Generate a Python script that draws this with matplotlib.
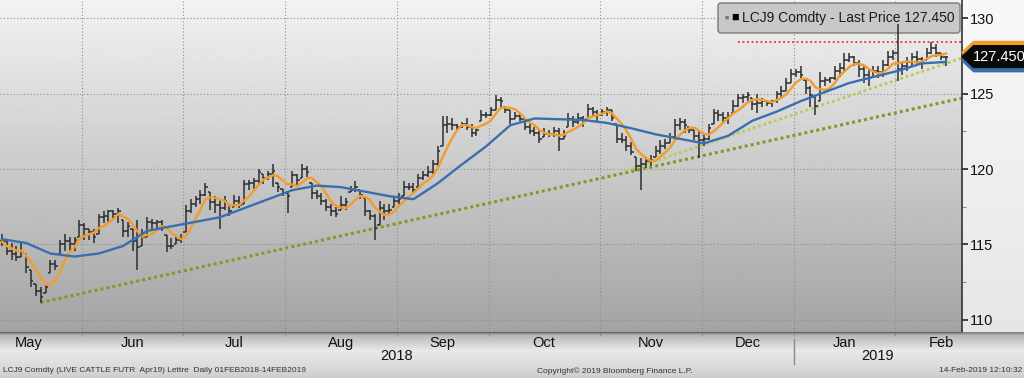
import numpy as np
import pandas as pd
import matplotlib
matplotlib.use("Agg")
import matplotlib.pyplot as plt
from matplotlib.patches import FancyBboxPatch, Polygon
from matplotlib.transforms import blended_transform_factory, IdentityTransform

plt.rcParams['font.family'] = ['Liberation Sans', 'DejaVu Sans']

# LCJ9 daily bars, one per session (08-May-2018 .. 14-Feb-2019)
close = [115.2, 114.6, 114.4, 114.2, 114.5, 113.5, 112.6, 111.9, 111.5, 112.2,
         113.7, 113.6, 115.0, 115.2, 115.0, 115.3, 116.3, 116.0, 115.8, 115.5,
         116.8, 116.9, 117.2, 117.0, 117.2, 115.9, 116.2, 115.2, 114.8, 115.5,
         116.5, 116.4, 116.5, 116.2, 114.9, 114.9, 115.3, 115.4, 117.2, 117.7,
         118.0, 118.3, 118.8, 117.8, 117.6, 117.4, 117.9, 117.2, 117.9, 117.6,
         119.0, 119.1, 119.2, 119.8, 119.4, 119.7, 119.9, 118.8, 118.4, 118.2,
         119.6, 119.3, 120.0, 119.8, 118.4, 118.2, 117.9, 117.5, 117.2, 117.0,
         117.6, 117.8, 118.6, 118.8, 118.3, 117.2, 116.9, 116.1, 117.4, 117.2,
         117.3, 117.9, 118.0, 118.8, 118.8, 118.6, 119.4, 119.6, 119.8, 120.3,
         121.2, 122.9, 123.0, 122.9, 122.8, 123.0, 122.8, 122.4, 122.6, 123.6,
         123.6, 123.9, 124.6, 124.5, 123.9, 123.3, 123.5, 123.3, 122.8, 122.5,
         122.4, 122.0, 122.3, 122.3, 122.5, 122.0, 122.2, 123.3, 123.1, 123.4,
         123.1, 124.0, 123.8, 123.6, 123.8, 123.9, 123.4, 122.0, 121.9, 121.5,
         121.1, 120.2, 120.3, 120.5, 120.6, 121.2, 121.5, 121.7, 122.1, 122.9,
         123.1, 122.9, 122.6, 122.2, 121.9, 122.0, 122.7, 123.7, 123.6, 123.4,
         123.5, 124.2, 124.7, 124.8, 124.9, 124.3, 124.4, 124.5, 124.4, 124.5,
         125.0, 125.2, 125.7, 126.3, 126.4, 126.2, 125.4, 124.9, 124.2, 125.8,
         125.9, 126.0, 126.5, 126.7, 127.2, 127.4, 127.0, 126.6, 126.2, 126.0,
         126.5, 126.4, 126.9, 127.4, 127.7, 126.6, 126.8, 127.1, 127.4, 127.3,
         127.0, 127.7, 128.0, 127.7, 127.4, 127.45]
high = [115.7, 115.2, 115.1, 114.9, 115.1, 114.4, 113.3, 112.4, 112.2, 112.4,
        114.0, 114.0, 115.3, 115.7, 115.5, 115.5, 116.6, 116.4, 116.0, 116.0,
        117.0, 117.2, 117.3, 117.3, 117.4, 116.6, 116.5, 116.0, 116.6, 116.0,
        116.8, 116.7, 116.6, 116.6, 115.6, 115.4, 115.6, 115.7, 117.6, 118.0,
        118.2, 118.6, 119.1, 118.5, 118.2, 118.0, 118.2, 117.7, 118.3, 118.2,
        119.3, 119.3, 119.4, 120.0, 119.7, 119.9, 120.3, 119.1, 118.7, 118.4,
        119.9, 119.7, 120.3, 120.2, 119.1, 118.6, 118.4, 118.0, 117.7, 117.5,
        118.2, 118.1, 118.9, 119.2, 118.6, 118.1, 117.3, 117.0, 117.9, 117.7,
        117.7, 118.2, 118.4, 119.2, 119.1, 119.1, 119.7, 119.9, 120.2, 120.6,
        121.5, 123.5, 123.5, 123.4, 123.0, 123.1, 123.4, 123.0, 122.8, 123.9,
        123.8, 124.1, 124.9, 124.8, 124.1, 123.9, 123.8, 123.7, 123.4, 123.0,
        122.8, 122.6, 122.7, 122.6, 122.8, 122.7, 122.6, 123.7, 123.5, 123.7,
        123.5, 124.3, 124.1, 123.9, 124.0, 124.1, 123.9, 123.0, 122.4, 122.2,
        121.8, 120.8, 120.7, 120.8, 120.9, 121.5, 121.9, 122.0, 122.4, 123.3,
        123.4, 123.3, 122.8, 122.6, 122.6, 122.4, 123.0, 124.0, 123.9, 123.8,
        123.8, 124.6, 125.0, 125.0, 125.1, 124.7, 125.0, 124.7, 124.6, 124.6,
        125.2, 125.5, 126.0, 126.6, 126.6, 126.8, 125.9, 125.5, 124.8, 126.4,
        126.1, 126.1, 126.8, 127.0, 127.7, 127.7, 127.5, 127.2, 126.8, 126.6,
        126.8, 126.8, 127.2, 127.8, 127.9, 129.6, 127.1, 127.4, 127.7, 127.8,
        127.4, 128.0, 128.4, 128.3, 127.7, 127.5]
low = [114.9, 114.3, 114.0, 113.9, 114.2, 113.1, 112.2, 111.6, 111.1, 111.8,
       113.1, 113.3, 114.4, 114.6, 114.5, 114.6, 115.5, 115.3, 115.3, 115.1,
       115.7, 116.4, 116.5, 116.6, 116.4, 115.5, 115.5, 114.6, 113.3, 114.9,
       115.5, 116.0, 116.1, 115.9, 114.5, 114.7, 115.0, 115.1, 115.8, 117.1,
       117.5, 117.7, 118.2, 117.3, 117.1, 116.0, 117.3, 116.9, 117.5, 117.4,
       117.7, 118.6, 118.7, 119.0, 119.0, 119.3, 118.8, 118.5, 118.2, 117.1,
       118.8, 118.8, 119.4, 119.5, 118.0, 118.0, 117.6, 117.2, 116.9, 116.8,
       117.3, 117.3, 118.5, 118.5, 118.0, 116.9, 116.6, 115.3, 116.3, 116.6,
       117.0, 117.5, 117.7, 118.2, 118.6, 118.4, 118.8, 119.3, 119.5, 119.7,
       120.2, 121.5, 122.4, 122.6, 122.6, 122.7, 122.6, 122.1, 122.2, 123.2,
       123.4, 123.5, 123.9, 124.1, 123.7, 123.0, 123.3, 123.2, 122.6, 122.3,
       122.2, 121.7, 122.1, 122.1, 122.1, 121.2, 122.0, 122.8, 122.8, 123.0,
       122.8, 123.3, 123.5, 123.2, 123.5, 123.5, 123.2, 121.7, 121.7, 121.2,
       120.9, 119.9, 118.6, 120.1, 120.2, 120.8, 121.0, 121.3, 121.7, 121.9,
       122.6, 122.4, 122.4, 121.9, 120.7, 121.5, 121.9, 123.0, 123.2, 123.0,
       123.0, 123.7, 124.1, 124.4, 124.5, 123.9, 123.7, 124.1, 124.2, 124.1,
       124.4, 124.8, 125.2, 125.7, 126.1, 126.0, 125.0, 124.1, 123.6, 124.5,
       125.5, 125.7, 125.9, 126.1, 126.5, 127.1, 126.8, 126.1, 125.7, 125.5,
       126.1, 126.0, 126.1, 126.8, 127.2, 125.8, 126.2, 126.5, 126.8, 126.9,
       126.6, 127.2, 127.6, 127.4, 127.2, 126.8]

# slow moving average (blue), read every 5th session
ma_slow = [115.35, 115.1, 114.4, 114.2, 114.4, 114.9, 115.9, 116.2, 116.5, 116.8,
           117.4, 118.0, 118.6, 118.9, 118.8, 118.5, 118.2, 118.0, 119.05, 120.3,
           121.5, 122.9, 123.35, 123.3, 123.25, 123.05, 122.7, 122.3, 122.0, 121.7,
           122.2, 123.2, 123.8, 124.5, 125.1, 125.7, 126.1, 126.5, 127.0, 127.1]
ma_slow_step = 5
ma_fast_len = 5

last_price = 127.45
range_high = 128.45
range_high_from = 152

# dotted trend lines as (session, price)
trend_main = [(8, 111.15), (198.3, 124.7)]
trend_nov = [(129, 119.9), (198.3, 127.35)]

months = ['May', 'Jun', 'Jul', 'Aug', 'Sep', 'Oct', 'Nov', 'Dec', 'Jan', 'Feb']
month_first = [-5, 17, 38, 59, 82, 101, 124, 145, 164, 185, 204]
years = ['2018', '2019']
year_first = 164

W, H = 1024, 378
fig = plt.figure(figsize=(W / 100, H / 100), dpi=100)

# figure background
bg = fig.add_axes([0, 0, 1, 1], zorder=-5)
rows = np.arange(H)
g = np.interp(rows, [0, 331, 332, 335, 350, 365, 378],
              [0.97, 0.90, 0.50, 0.72, 0.91, 0.86, 0.80])
bg.imshow(g[:, None], cmap='gray', vmin=0, vmax=1, aspect='auto', extent=[0, 1, 0, 1])
bg.axis('off')

ax = fig.add_axes([0, 46 / H, 962 / W, 332 / H])
x0, x1 = -0.4, 198.3
y0, y1 = 109.2, 131.2
pg = np.linspace(0.95, 0.64, 200)[:, None]
ax.imshow(pg, cmap='gray', vmin=0, vmax=1, aspect='auto', extent=[x0, x1, y0, y1], zorder=0)

x = np.arange(len(close))
c = np.array(close)
opens = np.clip(np.r_[c[0], c[:-1]], low, high)
bar_col = '#2d2d2d'
ax.vlines(x, low, high, color=bar_col, lw=1.1, zorder=3)
ax.hlines(opens, x - 0.5, x, color=bar_col, lw=1.1, zorder=3)
ax.hlines(c, x, x + 0.5, color=bar_col, lw=1.1, zorder=3)

ma_fast = pd.Series(c).rolling(ma_fast_len, min_periods=1).mean()
ax.plot(x, ma_fast, color='#f39c2c', lw=1.7, zorder=4)
ax.plot(x[::ma_slow_step], ma_slow, color='#3a6fae', lw=1.7, zorder=4)

ax.plot(*zip(*trend_main), color='#7d9c2c', lw=2.2, ls=(0, (1, 1)), zorder=2.5)
ax.plot(*zip(*trend_nov), color='#b9ca55', lw=2.0, ls=(0, (1, 1)), zorder=2.5)
ax.hlines(range_high, range_high_from, x1, color='#e0352b', lw=1.3,
          linestyles=(0, (1, 1.5)), zorder=2.5)

ax.set_xlim(x0, x1)
ax.set_ylim(y0, y1)

# axes, ticks, grid
ax.yaxis.tick_right()
ax.set_yticks([110, 115, 120, 125, 130])
ax.set_yticks([112.5, 117.5, 122.5, 127.5], minor=True)
ax.tick_params(axis='y', which='major', direction='out', length=4, width=1.2,
               color='#222222', labelsize=10.5, pad=2, labelcolor='#111111')
ax.tick_params(axis='y', which='minor', direction='out', length=3, color='#777777')

bounds = [m - 0.5 for m in month_first]
centers = [(a + b) / 2 for a, b in zip(bounds[:-1], bounds[1:])]
ax.set_xticks(centers)
ax.set_xticklabels(months)
ax.set_xticks(bounds[1:-1], minor=True)
ax.tick_params(axis='x', which='major', length=0, labelsize=10.5, pad=3, labelcolor='#111111')
ax.tick_params(axis='x', which='minor', direction='out', length=3, color='#888888')

ax.set_axisbelow(True)
ax.xaxis.grid(True, which='minor', color='#8f8f8f', lw=0.8, ls=(0, (1, 2)))
ax.yaxis.grid(True, which='major', color='#8f8f8f', lw=0.8, ls=(0, (1, 2)))

for s in ['top', 'left']:
    ax.spines[s].set_visible(False)
ax.spines['right'].set_color('#333333')
ax.spines['right'].set_linewidth(1.2)
ax.spines['bottom'].set_color('#666666')

# year labels and separator
bt = blended_transform_factory(ax.transData, ax.transAxes)
ax.text((x0 + year_first - 0.5) / 2, -0.072, years[0], transform=bt, ha='center', va='center',
        fontsize=10.5, color='#111111')
ax.text((year_first - 0.5 + x1) / 2, -0.072, years[1], transform=bt, ha='center', va='center',
        fontsize=10.5, color='#111111')
ax.plot([year_first - 0.5] * 2, [-0.02, -0.095], transform=bt, clip_on=False,
        color='#8a8a8a', lw=1)

# legend box
box = FancyBboxPatch((718, H - 33), 242, 30, boxstyle='round,pad=0,rounding_size=3',
                     fc='#c8c8c8', ec='#7a7a7a', lw=1, transform=IdentityTransform(), zorder=2.8)
ax.add_patch(box)
ax.text(725, H - 18, '\u25a0', transform=IdentityTransform(), fontsize=5, color='#777777',
        va='center', zorder=5)
ax.text(731, H - 18, '\u25a0', transform=IdentityTransform(), fontsize=9, color='#000000',
        va='center', zorder=5)
ax.text(742, H - 18, 'LCJ9 Comdty - Last Price %.3f' % last_price, transform=IdentityTransform(),
        fontsize=10, color='#1a1a1a', va='center', zorder=5)

# last price tag on the right axis
tr = blended_transform_factory(ax.transAxes, ax.transData)
def tag(yc, col, h=0.72):
    pts = [(1.0, yc), (1.012, yc + h), (1.0645, yc + h), (1.0645, yc - h), (1.012, yc - h)]
    ax.add_patch(Polygon(pts, closed=True, fc=col, ec=col, transform=tr, clip_on=False, zorder=6))
tag(last_price + 0.28, '#f39c2c')
tag(last_price - 0.28, '#3a6fae')
tag(last_price, '#0a0a0a')
ax.text(1.039, last_price, '%.3f' % last_price, transform=tr, ha='center', va='center',
        fontsize=10.5, color='white', zorder=7, clip_on=False)

# footer
fig.text(0.003, 1 - 371 / H, 'LCJ9 Comdty (LIVE CATTLE FUTR  Apr19) Lettre  Daily 01FEB2018-14FEB2019',
         fontsize=6, color='#333333', va='center')
fig.text(537 / W, 1 - 371 / H, 'Copyright\u00a9 2019 Bloomberg Finance L.P.',
         fontsize=6, color='#333333', va='center')
fig.text(1022 / W, 1 - 371 / H, '14-Feb-2019 12:10:32',
         fontsize=6, color='#333333', va='center', ha='right')

fig.savefig('out.png', dpi=100)
